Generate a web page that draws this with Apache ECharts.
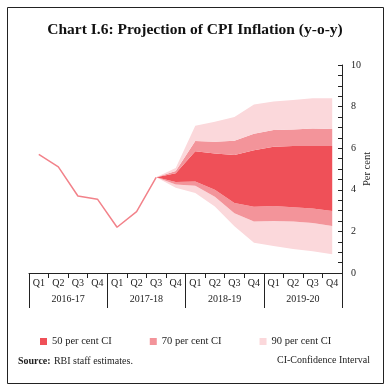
<!DOCTYPE html>
<html>
<head>
<meta charset="utf-8">
<script src="https://cdn.jsdelivr.net/npm/echarts@6/dist/echarts.min.js"></script>
<style>
html,body{margin:0;padding:0;background:#fff;}
#c{width:390px;height:391px;}
</style>
</head>
<body>
<div id="c"></div>
<script>
var quarters = ['Q1','Q2','Q3','Q4','Q1','Q2','Q3','Q4','Q1','Q2','Q3','Q4','Q1','Q2','Q3','Q4'];
var years = ['2016-17','2017-18','2018-19','2019-20'];
var actual = [5.7, 5.1, 3.7, 3.55, 2.2, 2.95, 4.6, null, null, null, null, null, null, null, null, null];
var low90  = [null,null,null,null,null,null, 4.6, 4.1, 3.85, 3.2, 2.25, 1.45, 1.3, 1.15, 1.05, 0.9];
var low70  = [null,null,null,null,null,null, 4.6, 4.25, 4.2, 3.67, 2.87, 2.47, 2.5, 2.47, 2.4, 2.26];
var low50  = [null,null,null,null,null,null, 4.6, 4.38, 4.4, 4.0, 3.37, 3.19, 3.22, 3.16, 3.1, 2.98];
var high50 = [null,null,null,null,null,null, 4.6, 4.8, 5.85, 5.75, 5.67, 5.9, 6.07, 6.1, 6.1, 6.1];
var high70 = [null,null,null,null,null,null, 4.6, 4.9, 6.35, 6.31, 6.36, 6.7, 6.88, 6.9, 6.95, 6.92];
var high90 = [null,null,null,null,null,null, 4.6, 5.05, 7.08, 7.27, 7.5, 8.1, 8.24, 8.32, 8.4, 8.4];

function diff(a, b) {
  return a.map(function (v, i) { return (v == null || b[i] == null) ? null : +(v - b[i]).toFixed(3); });
}
var C50 = '#EF5058', C70 = '#F3949A', C90 = '#FBD8DB';
var FONT = 'Liberation Serif';

function band(name, data, color) {
  return {
    name: name, type: 'line', stack: 'fan', data: data, symbol: 'none',
    lineStyle: { width: 0, opacity: 0 }, itemStyle: { color: color },
    areaStyle: { color: color, opacity: 1 }, silent: true, z: 1
  };
}

var chart = echarts.init(document.getElementById('c'));
chart.setOption({
  animation: false,
  title: {
    text: 'Chart I.6: Projection of CPI Inflation (y-o-y)',
    left: 'center', top: 17,
    textStyle: { fontFamily: FONT, fontWeight: 'bold', fontSize: 15.5, color: '#111' }
  },
  legend: {
    data: ['50 per cent CI', '70 per cent CI', '90 per cent CI'],
    left: 35, top: 331, icon: 'rect', itemWidth: 7, itemHeight: 7, itemGap: 38,
    textStyle: { fontFamily: FONT, fontSize: 10.5, color: '#222' }
  },
  grid: { left: 29, right: 48, top: 65, bottom: 118 },
  xAxis: [
    {
      type: 'category', data: quarters, position: 'bottom',
      axisLine: { lineStyle: { color: '#222', width: 1 } },
      axisTick: { show: true, length: 5, interval: 0, lineStyle: { color: '#222' } },
      axisLabel: { interval: 0, margin: 5, fontFamily: FONT, fontSize: 10, color: '#222' }
    },
    {
      type: 'category', data: years, position: 'bottom',
      axisLine: { show: false },
      axisTick: { show: true, length: 35, interval: 0, lineStyle: { color: '#222' } },
      axisLabel: { interval: 0, margin: 21, fontFamily: FONT, fontSize: 10, color: '#222' }
    }
  ],
  yAxis: {
    type: 'value', position: 'right', min: 0, max: 10, interval: 2,
    name: 'Per cent', nameLocation: 'middle', nameRotate: 90, nameGap: 20,
    nameMoveOverlap: false,
    nameTextStyle: { fontFamily: FONT, fontSize: 10.5, color: '#222' },
    axisLine: { show: true, lineStyle: { color: '#222' } },
    axisTick: { show: true, inside: true, length: 4, lineStyle: { color: '#222' } },
    minorTick: { show: true, splitNumber: 4, length: 4, lineStyle: { color: '#222' } },
    splitLine: { show: false },
    axisLabel: { margin: 9, fontFamily: FONT, fontSize: 10, color: '#222' }
  },
  series: [
    { name: 'base', type: 'line', stack: 'fan', data: low90, symbol: 'none',
      lineStyle: { width: 0, opacity: 0 }, areaStyle: { opacity: 0 }, silent: true },
    band('90 per cent CI', diff(low70, low90), C90),
    band('70 per cent CI', diff(low50, low70), C70),
    band('50 per cent CI', diff(high50, low50), C50),
    band('70 per cent CI', diff(high70, high50), C70),
    band('90 per cent CI', diff(high90, high70), C90),
    { name: 'CPI', type: 'line', data: actual, symbol: 'none', z: 5,
      lineStyle: { color: '#F2828A', width: 1.5 } }
  ],
  graphic: [
    { type: 'rect', shape: { x: 7.5, y: 7.5, width: 376, height: 376 },
      style: { fill: null, stroke: '#222', lineWidth: 1 }, silent: true },
    { type: 'text', left: 18, top: 355,
      style: { rich: { b: { fontFamily: FONT, fontWeight: 'bold', fontSize: 10, fill: '#222' },
                       n: { fontFamily: FONT, fontSize: 10, fill: '#222' } },
               text: '{b|Source:} {n|RBI staff estimates.}' } },
    { type: 'text', right: 20, top: 355,
      style: { text: 'CI-Confidence Interval', fontFamily: FONT, fontSize: 10, fill: '#222' } }
  ]
});
</script>
</body>
</html>
